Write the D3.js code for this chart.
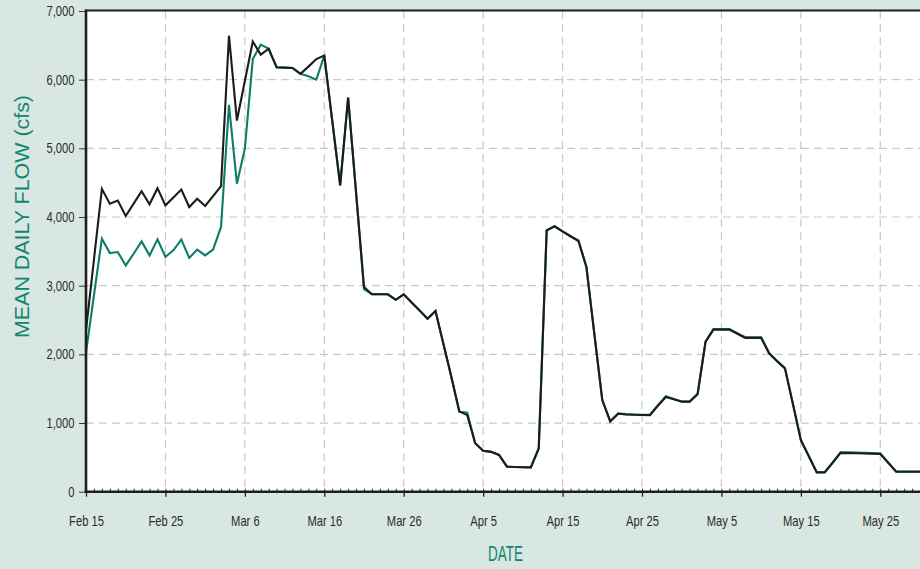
<!DOCTYPE html>
<html><head><meta charset="utf-8">
<script src="https://cdn.jsdelivr.net/npm/d3@7"></script>
<style>
html,body{margin:0;padding:0;background:#d9e7e3;}
svg{display:block;}
text{font-family:"Liberation Sans",Arial,sans-serif;}
</style></head><body>
<svg id="chart" width="920" height="569"></svg>
<script>
// ---- DATA ----
const dates = [
 "2024-02-15","2024-02-16","2024-02-17","2024-02-18","2024-02-19","2024-02-20","2024-02-21","2024-02-22","2024-02-23","2024-02-24",
 "2024-02-25","2024-02-26","2024-02-27","2024-02-28","2024-02-29","2024-03-01","2024-03-02","2024-03-03","2024-03-04","2024-03-05",
 "2024-03-06","2024-03-07","2024-03-08","2024-03-09","2024-03-10","2024-03-11","2024-03-12","2024-03-13","2024-03-14","2024-03-15",
 "2024-03-16","2024-03-17","2024-03-18","2024-03-19","2024-03-20","2024-03-21","2024-03-22","2024-03-23","2024-03-24","2024-03-25",
 "2024-03-26","2024-03-27","2024-03-28","2024-03-29","2024-03-30","2024-03-31","2024-04-01","2024-04-02","2024-04-03","2024-04-04",
 "2024-04-05","2024-04-06","2024-04-07","2024-04-08","2024-04-09","2024-04-10","2024-04-11","2024-04-12","2024-04-13","2024-04-14",
 "2024-04-15","2024-04-16","2024-04-17","2024-04-18","2024-04-19","2024-04-20","2024-04-21","2024-04-22","2024-04-23","2024-04-24",
 "2024-04-25","2024-04-26","2024-04-27","2024-04-28","2024-04-29","2024-04-30","2024-05-01","2024-05-02","2024-05-03","2024-05-04",
 "2024-05-05","2024-05-06","2024-05-07","2024-05-08","2024-05-09","2024-05-10","2024-05-11","2024-05-12","2024-05-13","2024-05-14",
 "2024-05-15","2024-05-16","2024-05-17","2024-05-18","2024-05-19","2024-05-20","2024-05-21","2024-05-22","2024-05-23","2024-05-24",
 "2024-05-25","2024-05-26","2024-05-27","2024-05-28","2024-05-29","2024-05-30"
];
const flowBlack = [
 2350,3380,4410,4195,4240,4015,4195,4375,4185,4420,
 4170,4285,4400,4145,4265,4160,4305,4450,6640,5405,
 5980,6555,6365,6450,6180,6175,6170,6085,6190,6300,
 6350,5405,4460,5740,4360,2980,2875,2875,2875,2795,
 2875,2755,2640,2520,2630,2150,1670,1170,1115,705,
 595,580,535,365,360,357,355,630,3805,3865,
 3790,3720,3650,3270,2300,1335,1025,1135,1125,1120,
 1118,1115,1250,1380,1345,1310,1310,1420,2180,2360,
 2360,2360,2300,2240,2240,2240,2015,1900,1795,1275,
 750,515,280,280,420,565,562,559,556,552,
 548,420,290,290,290,290
];
const flowGreen = [
 2030,2860,3685,3475,3490,3295,3465,3645,3440,3675,
 3420,3515,3670,3405,3525,3440,3525,3855,5635,4485,
 4995,6300,6510,6450,6180,6175,6170,6085,6050,6000,
 6350,5405,4460,5740,4360,2950,2875,2880,2875,2795,
 2875,2755,2640,2520,2630,2150,1670,1165,1150,705,
 595,580,535,365,360,357,355,630,3805,3865,
 3790,3720,3660,3280,2300,1335,1025,1140,1130,1125,
 1120,1120,1260,1390,1350,1315,1315,1425,2190,2370,
 2370,2370,2310,2250,2250,2250,2020,1905,1800,1280,
 755,520,285,285,425,575,572,569,566,562,
 558,425,295,295,295,295
];
const yTicks = [0,1000,2000,3000,4000,5000,6000,7000];
const xTickDates = ["2024-02-15","2024-02-25","2024-03-06","2024-03-16","2024-03-26","2024-04-05","2024-04-15","2024-04-25","2024-05-05","2024-05-15","2024-05-25"];
const xTickLabels = ["Feb 15","Feb 25","Mar 6","Mar 16","Mar 26","Apr 5","Apr 15","Apr 25","May 5","May 15","May 25"];
const yTitle = "MEAN DAILY FLOW (cfs)";
const xTitle = "DATE";

// ---- LAYOUT ----
const W = 920, H = 569;
const L = 86, R = 920, T = 11, B = 491.7;
const NARROW = 0.8;
const parse = d3.utcParse("%Y-%m-%d");
const rows = dates.map((d,i)=>({date:parse(d), a:flowBlack[i], b:flowGreen[i]}));
const x = d3.scaleUtc().domain([parse("2024-02-15"), parse("2024-05-30")]).range([L, R]);
const y = d3.scaleLinear().domain([0,7000]).range([B, T]);

const svg = d3.select("#chart");
svg.append("rect").attr("width",W).attr("height",H).attr("fill","#d9e7e3");
svg.append("rect").attr("x",L).attr("y",T).attr("width",R-L).attr("height",B-T).attr("fill","#ffffff");

// grid
const grid = svg.append("g").attr("stroke","#c9c9c9").attr("stroke-width",1.2).attr("stroke-dasharray","8,5");
grid.selectAll("line.h").data(yTicks.filter(v=>v>0 && v<7000)).join("line")
  .attr("x1",L).attr("x2",R).attr("y1",d=>y(d)).attr("y2",d=>y(d));
grid.selectAll("line.v").data(xTickDates.slice(1).map(parse)).join("line").attr("class","v")
  .attr("x1",d=>x(d)).attr("x2",d=>x(d)).attr("y1",T).attr("y2",B);

// lines
const lineA = d3.line().x(d=>x(d.date)).y(d=>y(d.a));
const lineB = d3.line().x(d=>x(d.date)).y(d=>y(d.b));
svg.append("path").datum(rows).attr("d",lineB).attr("fill","none")
  .attr("stroke","#0b7d69").attr("stroke-width",2.1).attr("stroke-linejoin","miter");
svg.append("path").datum(rows).attr("d",lineA).attr("fill","none")
  .attr("stroke","#1c1c1c").attr("stroke-width",2.1).attr("stroke-linejoin","miter");

// minor daily ticks (inside)
const minor = svg.append("g").attr("transform",`translate(0,${B})`)
  .call(d3.axisBottom(x).ticks(d3.utcDay.every(1)).tickSize(-3).tickFormat(""));
minor.select(".domain").remove();
minor.selectAll("line").attr("stroke","#333").attr("stroke-width",1);

// major x ticks
const xa = svg.append("g").attr("transform",`translate(0,${B})`)
  .call(d3.axisBottom(x).tickValues(xTickDates.map(parse)).tickSize(5).tickPadding(19)
    .tickFormat((d,i)=>xTickLabels[i]));
xa.select(".domain").remove();
xa.selectAll("line").attr("stroke","#222").attr("stroke-width",1.3);
xa.selectAll("text").attr("fill","#2b2b2b").style("font-size","14px")
  .attr("transform",`scale(${NARROW},1)`);

// y axis
const ya = svg.append("g").attr("transform",`translate(${L},0)`)
  .call(d3.axisLeft(y).tickValues(yTicks).tickSize(7).tickPadding(4).tickFormat(d3.format(",")));
ya.select(".domain").remove();
ya.selectAll("line").attr("stroke","#333").attr("stroke-width",1);
ya.selectAll("text").attr("fill","#2b2b2b").style("font-size","14px")
  .attr("x",-11.5/NARROW).attr("transform",`scale(${NARROW},1)`);

// frame
svg.append("line").attr("x1",L-1).attr("x2",R).attr("y1",T-0.5).attr("y2",T-0.5).attr("stroke","#1e1e1e").attr("stroke-width",2);
svg.append("line").attr("x1",L).attr("x2",L).attr("y1",T-1.5).attr("y2",B+1.3).attr("stroke","#1e1e1e").attr("stroke-width",2.6);
svg.append("line").attr("x1",L-1.3).attr("x2",R).attr("y1",B).attr("y2",B).attr("stroke","#1e1e1e").attr("stroke-width",2.6);

// titles
svg.append("text").attr("transform","translate(29,216.5) rotate(-90)")
  .attr("text-anchor","middle").attr("fill","#11866e").style("font-size","21px")
  .attr("textLength",243).attr("lengthAdjust","spacingAndGlyphs").text(yTitle);
svg.append("text").attr("x",505.5).attr("y",561).attr("text-anchor","middle")
  .attr("fill","#11866e").style("font-size","22px")
  .attr("textLength",35).attr("lengthAdjust","spacingAndGlyphs").text(xTitle);
</script>
</body></html>
